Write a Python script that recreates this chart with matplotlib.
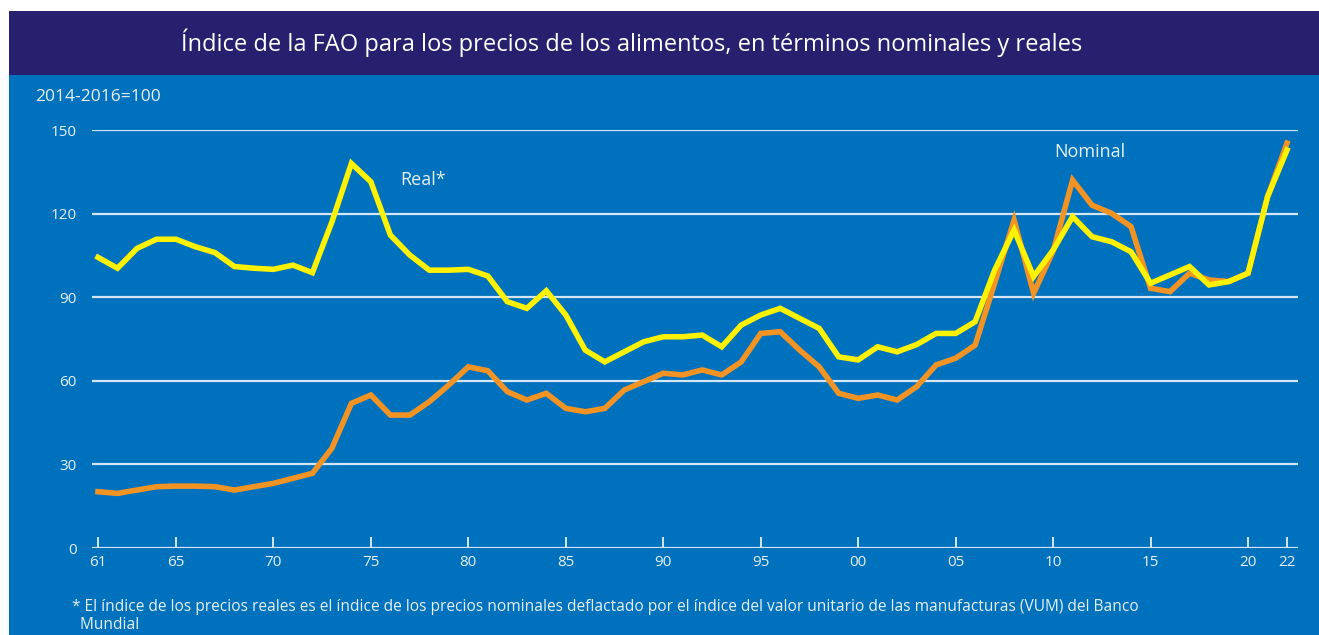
import numpy as np
import matplotlib
matplotlib.use("Agg")
import matplotlib.pyplot as plt
from matplotlib.patches import Rectangle

# Data (2014-2016 = 100)
years = np.arange(1961, 2023)

nominal = [20.2, 19.6, 20.8, 22.0, 22.2, 22.2, 22.0, 20.8, 22.0, 23.2,
           25.0, 26.8, 35.8, 51.9, 54.9, 47.7, 47.7, 52.5, 58.5, 65.0,
           63.6, 56.1, 53.1, 55.5, 50.1, 48.9, 50.1, 56.7, 59.7, 62.7,
           62.1, 63.9, 62.1, 66.8, 77.0, 77.6, 71.0, 65.0, 55.5, 53.7,
           54.9, 53.1, 57.9, 65.7, 68.1, 72.8, 95.0, 117.7, 91.4, 106.5,
           132.0, 123.0, 120.1, 115.3, 93.2, 92.0, 98.6, 96.2, 95.6, 98.6,
           126.0, 145.3]

real = [104.3, 100.4, 107.5, 110.8, 110.8, 108.1, 106.0, 101.0, 100.4, 100.0,
        101.5, 98.8, 117.0, 138.0, 131.4, 112.3, 105.1, 99.7, 99.7, 100.0,
        97.6, 88.4, 86.0, 92.3, 83.6, 71.0, 66.8, 70.4, 74.0, 75.8,
        75.8, 76.4, 72.2, 80.0, 83.6, 86.0, 82.4, 78.8, 68.6, 67.5,
        72.2, 70.4, 73.0, 77.0, 77.0, 81.2, 99.7, 114.1, 97.4, 106.9,
        118.9, 111.7, 109.9, 106.3, 95.0, 98.0, 101.0, 94.4, 95.6, 98.6,
        126.0, 142.8]

tick_years = [1961, 1965, 1970, 1975, 1980, 1985, 1990, 1995, 2000, 2005,
              2010, 2015, 2020, 2022]
tick_labels = ["61", "65", "70", "75", "80", "85", "90", "95", "00", "05",
               "10", "15", "20", "22"]
y_ticks = [0, 30, 60, 90, 120, 150]

navy = "#27206f"
blue = "#0071bc"
grid_col = "#d4e6f5"
txt_col = "#e8f0f8"
font = "Open Sans"

W, H = 1319, 635
fig = plt.figure(figsize=(W / 100, H / 100), dpi=100)
fig.patch.set_facecolor("white")

# background panels
bg = fig.add_axes([0, 0, 1, 1], zorder=-1)
bg.set_xlim(0, W)
bg.set_ylim(H, 0)
bg.axis("off")
bg.add_patch(Rectangle((9, 75), W, H, facecolor=blue, edgecolor="none"))
bg.add_patch(Rectangle((9, 11), W, 64, facecolor=navy, edgecolor="none"))

fig.text(632 / W, 1 - 43 / H,
         "Índice de la FAO para los precios de los alimentos, en términos nominales y reales",
         color="white", fontsize=17, family=font, ha="center", va="center")
fig.text(35 / W, 1 - 97 / H, "2014-2016=100", color=txt_col, fontsize=12.5,
         family=font, ha="left", va="center")

# axes: x 92..1298 px, y 0 at 548 px, 150 at 130 px
ax = fig.add_axes([92 / W, (H - 548) / H, (1298 - 92) / W, (548 - 130) / H], zorder=1)
ax.set_facecolor("none")
x0 = 1961 - 6 / 19.5
x1 = 2022 + 11 / 19.5
ax.set_xlim(x0, x1)
ax.set_ylim(0, 150)

for v in y_ticks:
    ax.axhline(v, color=grid_col, lw=1.6, zorder=1)

ax.plot(years, nominal, color="#f39323", lw=4, solid_joinstyle="miter",
        zorder=3, clip_on=False)
ax.plot(years, real, color="#fff200", lw=4, solid_joinstyle="miter",
        zorder=4, clip_on=False)

for s in ax.spines.values():
    s.set_visible(False)

ax.set_xticks(tick_years)
ax.set_xticklabels(tick_labels)
ax.tick_params(axis="x", direction="in", length=8, width=1.4, color=grid_col,
               labelcolor=txt_col, labelsize=11, pad=5)
ax.set_yticks(y_ticks)
ax.set_yticklabels([str(v) for v in y_ticks])
ax.tick_params(axis="y", length=0, labelcolor=txt_col, labelsize=11, pad=11)
for lab in ax.get_xticklabels() + ax.get_yticklabels():
    lab.set_family(font)

ax.text(1977.7, 132, "Real*", color=txt_col, fontsize=13, family=font,
        ha="center", va="center")
ax.text(2011.9, 142, "Nominal", color=txt_col, fontsize=13, family=font,
        ha="center", va="center")

fig.text(72 / W, 1 - 616 / H,
         "* El índice de los precios reales es el índice de los precios nominales deflactado "
         "por el índice del valor unitario de las manufacturas (VUM) del Banco\n  Mundial",
         color=txt_col, fontsize=11.2, family=font, ha="left", va="center",
         linespacing=1.2)

fig.savefig("out.png", dpi=100)
